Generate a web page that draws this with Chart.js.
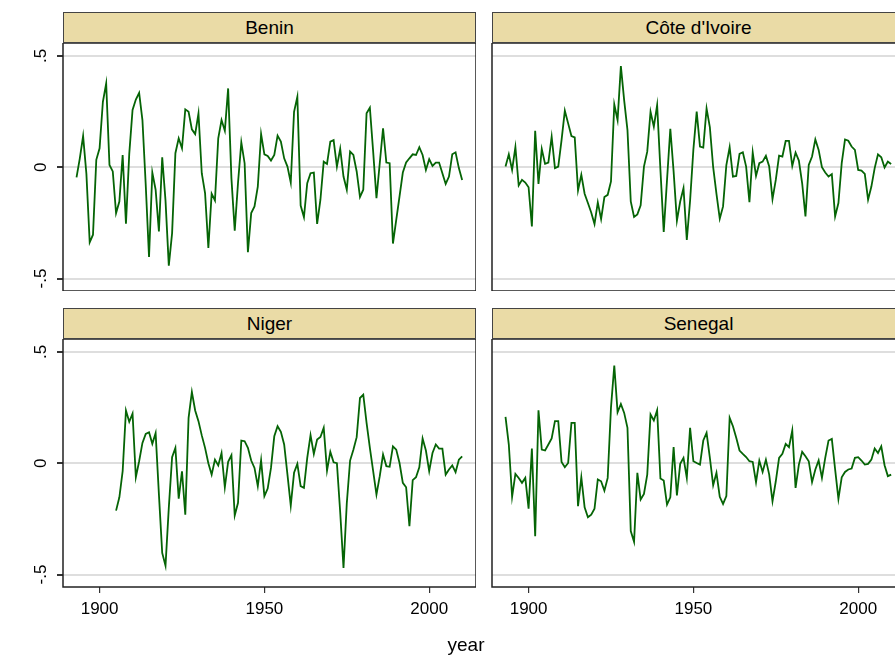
<!DOCTYPE html>
<html>
<head>
<meta charset="utf-8">
<script src="https://cdn.jsdelivr.net/npm/chart.js@4.4.1/dist/chart.umd.min.js"></script>
<style>
  html, body { margin: 0; padding: 0; background: #fff; overflow: hidden; }
  body { width: 895px; height: 656px; position: relative; font-family: Arial, "Liberation Sans", sans-serif; }
  .panel { position: absolute; }
  .strip { position: absolute; box-sizing: border-box; height: 31px; background: #eadba6; border: 1px solid #444;
           font-size: 19px; line-height: 29px; text-align: center; color: #000; }
  #xtitle { position: absolute; left: 0; width: 932px; top: 634px; text-align: center; font-size: 19px; color: #000; }
</style>
</head>
<body>
<div class="strip" style="left:63px;top:12px;width:413px;">Benin</div>
<div class="strip" style="left:492px;top:12px;width:413px;">Côte d'Ivoire</div>
<div class="strip" style="left:63px;top:308px;width:413px;">Niger</div>
<div class="strip" style="left:492px;top:308px;width:413px;">Senegal</div>
<div class="panel" style="left:0;top:43px;width:476px;height:248px;"><canvas id="c1"></canvas></div>
<div class="panel" style="left:480px;top:43px;width:425px;height:248px;"><canvas id="c2"></canvas></div>
<div class="panel" style="left:0;top:339px;width:476px;height:317px;"><canvas id="c3"></canvas></div>
<div class="panel" style="left:480px;top:339px;width:425px;height:317px;"><canvas id="c4"></canvas></div>
<div id="xtitle">year</div>
<script>
var yTicks = [-0.5, 0, 0.5];
var yTickLabels = ['-.5', '0', '.5'];
var xTicks = [1900, 1950, 2000];

// first year of each series
var beninStart = 1893;
var ivoireStart = 1893;
var nigerStart = 1905;
var senegalStart = 1893;

var benin = [
  -0.046, 0.040, 0.140, -0.030, -0.337, -0.303, 0.033, 0.085, 0.294, 0.376,
  0.010, -0.019, -0.206, -0.154, 0.055, -0.254, 0.060, 0.257, 0.304, 0.334,
  0.212, -0.080, -0.403, -0.024, -0.101, -0.288, 0.045, -0.150, -0.442, -0.296,
  0.063, 0.130, 0.085, 0.260, 0.249, 0.170, 0.149, 0.242, -0.027,
  -0.116, -0.363, -0.119, -0.149, 0.130, 0.212, 0.164, 0.354, -0.050, -0.285,
  -0.070, 0.112, 0.018, -0.382, -0.206, -0.176, -0.087, 0.149, 0.058, 0.051,
  0.030, 0.055, 0.142, 0.115, 0.040, 0.003, -0.069, 0.249, 0.316, -0.172,
  -0.224, -0.072, -0.027, -0.024, -0.255, -0.146, 0.025, 0.015, 0.115, 0.122,
  0.003, 0.083,
  -0.042, -0.101, 0.070, 0.055, -0.019, -0.134, -0.101, 0.242, 0.267, 0.070,
  -0.139, 0.018, 0.175, 0.021, 0.018, -0.343, -0.236, -0.131, -0.024, 0.021,
  0.040, 0.058, 0.055, 0.090, 0.055, -0.012, 0.036, 0.006, 0.021, 0.021,
  -0.027, -0.075, -0.042, 0.058, 0.067, -0.004, -0.057
];

var ivoire = [
  0.003, 0.058, -0.012, 0.090, -0.082, -0.057, -0.069, -0.090, -0.266, 0.164,
  -0.075, 0.082, 0.015, 0.021, 0.137, -0.004, 0.003, 0.122, 0.254, 0.197,
  0.140, 0.134, -0.104, -0.034, -0.119, -0.161, -0.203, -0.255, -0.158, -0.233,
  -0.134, -0.124, -0.064, 0.282, 0.212, 0.454, 0.300, 0.167, -0.154,
  -0.223, -0.212, -0.171, 0.003, 0.070, 0.249, 0.182, 0.279, -0.012, -0.291,
  -0.057, 0.173, -0.020, -0.240, -0.154, -0.094, -0.327, -0.150, 0.080, 0.250,
  0.093, 0.088, 0.264, 0.179, 0.000, -0.120, -0.231, -0.176, 0.010, 0.090,
  -0.042, -0.039, 0.060, 0.067, 0.003, -0.157, 0.066, -0.039, 0.018, 0.025,
  0.051, 0.003,
  -0.143, -0.057, 0.052, 0.048, 0.118, 0.118, 0.006, 0.066, 0.030, -0.072,
  -0.221, 0.010, 0.048, 0.125, 0.078, 0.000, -0.024, -0.042, -0.031, -0.221,
  -0.161, 0.018, 0.125, 0.119, 0.093, 0.078, -0.012, -0.015, -0.030, -0.146,
  -0.087, -0.004, 0.058, 0.045, -0.001, 0.025, 0.015
];

var niger = [
  -0.213, -0.153, -0.036, 0.237, 0.186, 0.223, -0.063, 0.009, 0.091, 0.132,
  0.139, 0.087, 0.135, -0.140, -0.403, -0.460, -0.200, 0.027, 0.069, -0.159,
  -0.036, -0.231, 0.204, 0.320, 0.237, 0.189, 0.125,
  0.069, 0.000, -0.051, 0.016, -0.010, 0.046, -0.108, 0.006, 0.036, -0.235,
  -0.178, 0.102, 0.099, 0.069, 0.012, -0.021, -0.103, 0.013, -0.148, -0.114,
  -0.021, 0.121, 0.166, 0.141, 0.084, -0.051, -0.190, -0.043, -0.003, -0.103,
  -0.111, 0.024, 0.126, 0.042, 0.106, 0.118, 0.159, -0.033, 0.051, 0.004,
  0.000, -0.220,
  -0.470, -0.180, 0.012, 0.061, 0.117, 0.293, 0.308, 0.181, 0.069, -0.036,
  -0.141, -0.058, 0.039, -0.013, -0.016, 0.076, 0.061, 0.001, -0.088, -0.108,
  -0.283, -0.076, -0.063, -0.018, 0.111, 0.057, -0.036, 0.046, 0.084, 0.066,
  0.066, -0.051, -0.028, -0.010, -0.040, 0.016, 0.031
];

var senegal = [
  0.208, 0.084, -0.151, -0.048, -0.066, -0.088, -0.066, -0.204, 0.066, -0.328,
  0.238, 0.061, 0.057, 0.084, 0.111, 0.189, 0.189, 0.006, -0.018, 0.001,
  0.181, 0.181, -0.193, -0.063, -0.198, -0.243, -0.231, -0.204, -0.073, -0.081,
  -0.123, -0.066, 0.251, 0.439, 0.229, 0.266, 0.226, 0.159, -0.305,
  -0.353, -0.043, -0.163, -0.138, -0.051, 0.219, 0.192, 0.238, -0.069, -0.078,
  -0.186, -0.153, 0.073, -0.145, -0.003, 0.024, -0.066, 0.159, 0.009, 0.001,
  -0.006, 0.102, 0.136, 0.024, -0.099, -0.043, -0.151, -0.183, -0.148, 0.204,
  0.166, 0.114, 0.057, 0.042, 0.028, 0.009, 0.006, -0.085, 0.012, -0.039,
  0.016, -0.051,
  -0.171, -0.081, 0.024, 0.042, 0.087, 0.072, 0.147, -0.111, -0.006, 0.051,
  0.031, 0.009, -0.085, -0.028, 0.013, -0.066, 0.024, 0.102, 0.109, -0.028,
  -0.160, -0.063, -0.039, -0.028, -0.024, 0.024, 0.027, 0.012, -0.006, -0.003,
  0.016, 0.066, 0.046, 0.076, -0.009, -0.058, -0.051
];

function toPoints(start, values) {
  return values.map(function (v, i) { return { x: start + i, y: v }; });
}

var framePlugin = {
  id: 'frame',
  afterDraw: function (chart) {
    var a = chart.chartArea, c = chart.ctx;
    c.save();
    c.strokeStyle = '#222';
    c.lineWidth = 1.5;
    c.strokeRect(a.left, a.top, a.right - a.left, a.bottom - a.top);
    c.restore();
  }
};

function noPad(s) {
  s.paddingTop = 0; s.paddingBottom = 0; s.paddingLeft = 0; s.paddingRight = 0;
}

function makePanel(id, start, values, showY, showX) {
  var ctx = document.getElementById(id).getContext('2d');
  return new Chart(ctx, {
    type: 'line',
    data: {
      datasets: [{
        data: toPoints(start, values),
        borderColor: '#056405',
        borderWidth: 1.8,
        pointRadius: 0,
        tension: 0,
        fill: false
      }]
    },
    options: {
      responsive: true,
      maintainAspectRatio: false,
      animation: false,
      layout: { padding: 0 },
      plugins: { legend: { display: false }, tooltip: { enabled: false } },
      scales: {
        x: {
          type: 'linear',
          min: 1888.9,
          max: 2014.2,
          display: showX,
          afterBuildTicks: function (s) { s.ticks = xTicks.map(function (v) { return { value: v }; }); },
          afterFit: function (s) { s.height = showX ? 69 : 0; noPad(s); },
          border: { display: false },
          grid: { drawOnChartArea: false, drawTicks: true, tickLength: 6, tickColor: '#333', lineWidth: 1.2 },
          ticks: {
            padding: 6,
            color: '#000',
            font: { family: 'Arial, "Liberation Sans", sans-serif', size: 17 },
            callback: function (v) { return String(v); }
          }
        },
        y: {
          min: -0.556,
          max: 0.558,
          afterBuildTicks: function (s) { s.ticks = yTicks.map(function (v) { return { value: v }; }); },
          afterFit: function (s) { s.width = showY ? 63 : 12; noPad(s); },
          border: { display: false },
          grid: {
            color: '#dedede',
            lineWidth: 2,
            drawTicks: showY,
            tickLength: 6,
            tickColor: '#333'
          },
          ticks: {
            display: showY,
            padding: 6,
            minRotation: 90,
            maxRotation: 90,
            crossAlign: 'center',
            color: '#000',
            font: { family: 'Arial, "Liberation Sans", sans-serif', size: 17 },
            callback: function (v) {
              var i = yTicks.indexOf(v);
              return i >= 0 ? yTickLabels[i] : '';
            }
          }
        }
      }
    },
    plugins: [framePlugin]
  });
}

makePanel('c1', beninStart, benin, true, false);
makePanel('c2', ivoireStart, ivoire, false, false);
makePanel('c3', nigerStart, niger, true, true);
makePanel('c4', senegalStart, senegal, false, true);
</script>
</body>
</html>
